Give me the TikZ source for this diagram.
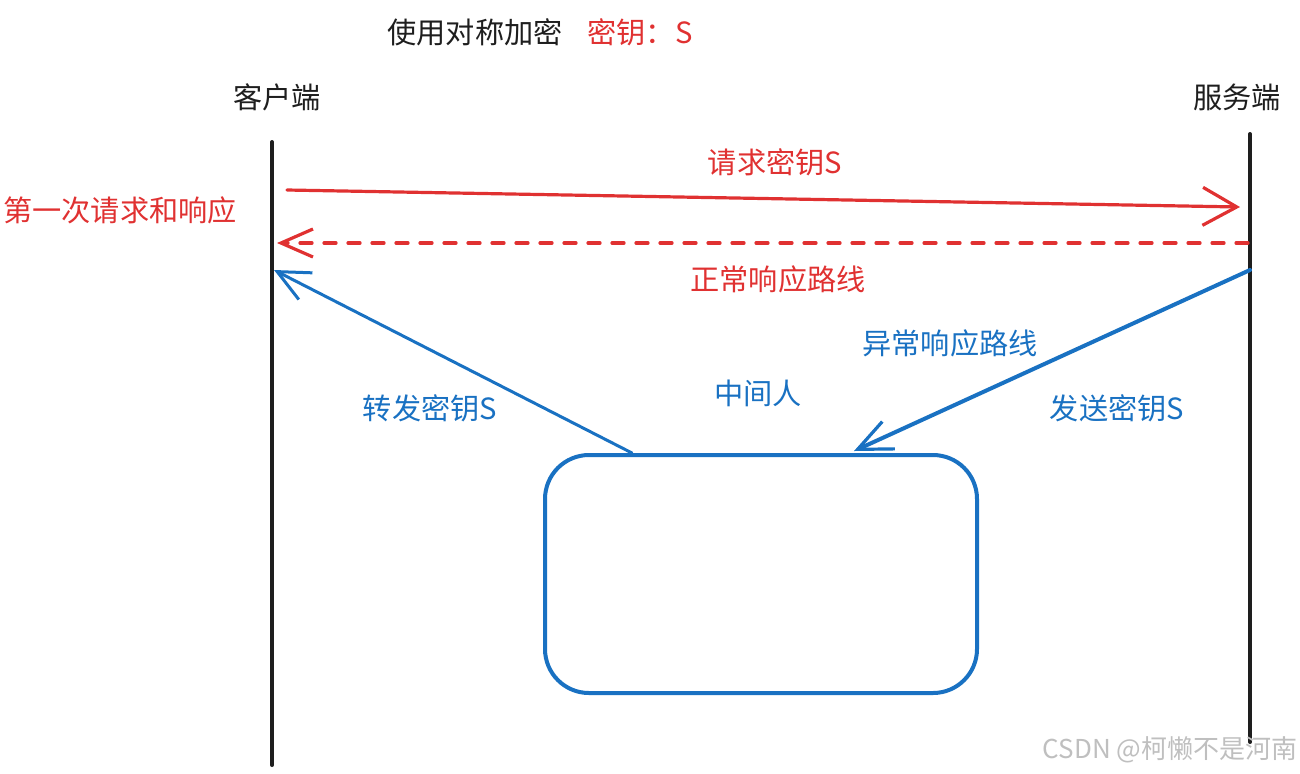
\documentclass[tikz,border=0pt]{standalone}
\usepackage{fontspec}
\setmainfont{Noto Sans CJK SC}
\usetikzlibrary{arrows.meta}
\definecolor{exred}{HTML}{E03131}
\definecolor{exblue}{HTML}{1971C2}
\definecolor{exblack}{HTML}{1E1E1E}
\begin{document}
\begin{tikzpicture}[x=0.5pt,y=-0.5pt,
  lbl/.style={inner sep=0pt,font=\fontsize{14.6}{17}\selectfont},
  lifeline/.style={exblack,line width=2pt,line cap=round},
  redarrow/.style={exred,line width=1.6pt,line cap=round,-{Straight Barb[length=17pt,width=19pt,line width=1.6pt]}},
  bluearrow/.style={exblue,line width=1.5pt,line cap=round,-{Straight Barb[length=16pt,width=15pt,line width=1.5pt]}},
  boxstyle/.style={draw=exblue,line width=2pt,rounded corners=22pt,minimum width=216pt,minimum height=119pt,inner sep=0pt}]
\useasboundingbox (0,0) rectangle (1300,773);
% titles
\node[lbl,exblack] (title) at (475,32) {使用对称加密};
\node[lbl,exred] (key) at (640,32) {密钥：S};
\node[lbl,exblack] (client) at (277,97) {客户端};
\node[lbl,exblack] (server) at (1237,97) {服务端};
% lifelines
\coordinate (ctop) at (272,142);
\coordinate (cbot) at (272,765);
\coordinate (stop) at (1250,134);
\coordinate (sbot) at (1250,742);
\draw[lifeline] (ctop) -- (cbot);
\draw[lifeline] (stop) -- (sbot);
% request
\coordinate (reqs) at (287,190);
\coordinate (reqe) at (1240,207);
\draw[redarrow] (reqs) -- (reqe);
\node[lbl,exred] (reqlbl) at (775,162) {请求密钥S};
\node[lbl,exred] (first) at (120,210) {第一次请求和响应};
% normal response
\coordinate (resps) at (1248,243);
\coordinate (respe) at (277,243);
\draw[redarrow,dash pattern=on 6pt off 6pt,-{Straight Barb[length=16pt,width=14pt,line width=1.6pt]}] (resps) -- (respe);
\node[lbl,exred] (normal) at (778,279) {正常响应路线};
% man in the middle
\node[boxstyle] (mitm) at (761,574) {};
\coordinate (fwds) at ([xshift=44.5pt]mitm.north west);
\coordinate (fwde) at (274,270);
\draw[bluearrow] (fwds) -- (fwde);
\coordinate (sends) at (1250,270);
\coordinate (sende) at ([xshift=-62.5pt,yshift=1pt]mitm.north east);
\draw[bluearrow,line width=2pt,-{Straight Barb[length=17pt,width=15pt,line width=1.6pt]}] (sends) -- (sende);
\node[lbl,exblue] (abn) at (950,343) {异常响应路线};
\node[lbl,exblue] (mid) at (758,393) {中间人};
\node[lbl,exblue] (fwd) at (430,408) {转发密钥S};
\node[lbl,exblue] (send) at (1117,408) {发送密钥S};
% watermark
\node[lbl,black!25,font=\fontsize{13}{15}\selectfont] (wm) at (1170,750) {CSDN @柯懒不是河南};
\end{tikzpicture}
\end{document}
